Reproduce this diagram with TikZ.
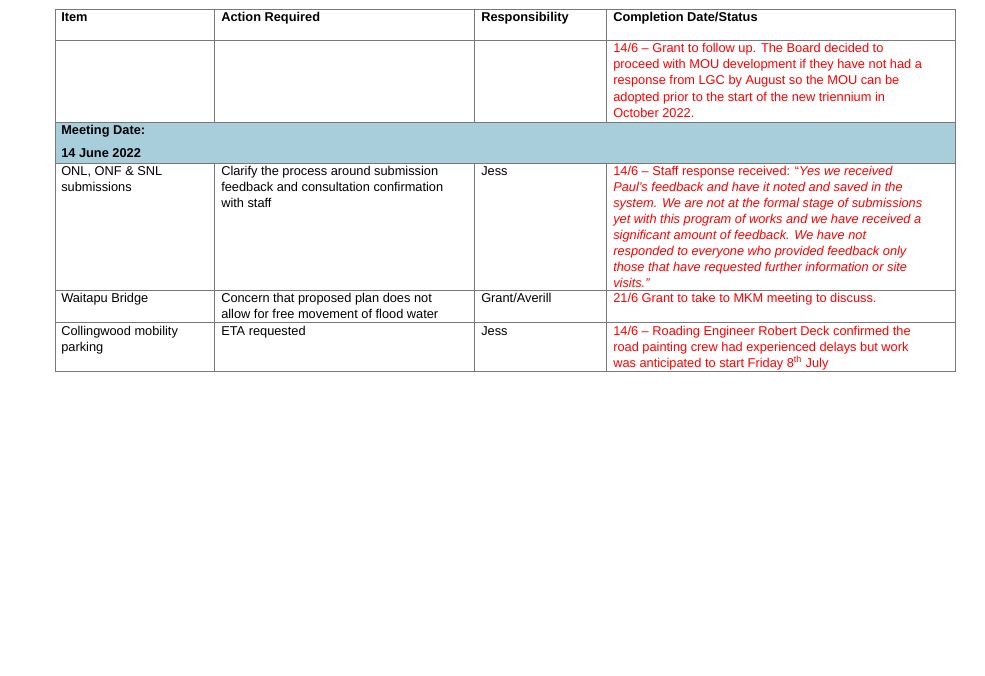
\documentclass[tikz,border=0pt]{standalone}
\usepackage{fontspec}
\setmainfont{Liberation Sans}
\definecolor{band}{RGB}{168,206,220}
\definecolor{rule}{RGB}{120,120,120}
\definecolor{txtred}{RGB}{255,0,0}
\begin{document}
\begin{tikzpicture}[x=0.75pt,y=-0.75pt,
  tx/.style={anchor=base west,inner sep=0pt,font=\fontsize{9.6}{12}\selectfont},
  rd/.style={tx,text=txtred},
  hd/.style={tx,font=\fontsize{9.6}{12}\selectfont\bfseries},
  grid/.style={draw=rule,line width=0.6pt}]
\useasboundingbox (0,0) rectangle (985,675);
\fill[white] (0,0) rectangle (985,675);
\fill[band] (55,122) rectangle (955,163);
% grid
\draw[grid] (55,9) rectangle (955,371);
\draw[grid] (55,40) -- (955,40);
\draw[grid] (55,122) -- (955,122);
\draw[grid] (55,163) -- (955,163);
\draw[grid] (55,290) -- (955,290);
\draw[grid] (55,322) -- (955,322);
\foreach \x in {214,474,606}{
  \draw[grid] (\x,9) -- (\x,122);
  \draw[grid] (\x,163) -- (\x,371);
}
% header
\node[hd] (h1) at (61,21) {Item};
\node[hd] (h2) at (221,21) {Action Required};
\node[hd] (h3) at (481,21) {Responsibility};
\node[hd] (h4) at (613,21) {Completion Date/Status};
% row 1
\node[rd] (a1) at (613,52) {14/6 – Grant to follow up. The Board decided to};
\node[rd] (a2) at (613,68) {proceed with MOU development if they have not had a};
\node[rd] (a3) at (613,84) {response from LGC by August so the MOU can be};
\node[rd] (a4) at (613,101) {adopted prior to the start of the new triennium in};
\node[rd] (a5) at (613,117) {October 2022.};
% band
\node[hd] (m1) at (61,134) {Meeting Date:};
\node[hd] (m2) at (61,157) {14 June 2022};
% ONL row
\node[tx] (b1) at (61,175) {ONL, ONF \& SNL};
\node[tx] (b2) at (61,191) {submissions};
\node[tx] (b3) at (221,175) {Clarify the process around submission};
\node[tx] (b4) at (221,191) {feedback and consultation confirmation};
\node[tx] (b5) at (221,207) {with staff};
\node[tx] (b6) at (481,175) {Jess};
\node[rd] (c1) at (613,175) {14/6 – Staff response received: “\textit{Yes we received}};
\node[rd,font=\fontsize{9.6}{12}\selectfont\itshape] (c2) at (613,191) {Paul’s feedback and have it noted and saved in the};
\node[rd,font=\fontsize{9.6}{12}\selectfont\itshape] (c3) at (613,207) {system. We are not at the formal stage of submissions};
\node[rd,font=\fontsize{9.6}{12}\selectfont\itshape] (c4) at (613,223) {yet with this program of works and we have received a};
\node[rd,font=\fontsize{9.6}{12}\selectfont\itshape] (c5) at (613,239) {significant amount of feedback. We have not};
\node[rd,font=\fontsize{9.6}{12}\selectfont\itshape] (c6) at (613,255) {responded to everyone who provided feedback only};
\node[rd,font=\fontsize{9.6}{12}\selectfont\itshape] (c7) at (613,271) {those that have requested further information or site};
\node[rd,font=\fontsize{9.6}{12}\selectfont\itshape] (c8) at (613,287) {visits.”};
% Waitapu
\node[tx] (d1) at (61,302) {Waitapu Bridge};
\node[tx] (d2) at (221,302) {Concern that proposed plan does not};
\node[tx] (d3) at (221,318) {allow for free movement of flood water};
\node[tx] (d4) at (481,302) {Grant/Averill};
\node[rd] (d5) at (613,302) {21/6 Grant to take to MKM meeting to discuss.};
% Collingwood
\node[tx] (e1) at (61,335) {Collingwood mobility};
\node[tx] (e2) at (61,351) {parking};
\node[tx] (e3) at (221,335) {ETA requested};
\node[tx] (e4) at (481,335) {Jess};
\node[rd] (e5) at (613,335) {14/6 – Roading Engineer Robert Deck confirmed the};
\node[rd] (e6) at (613,351) {road painting crew had experienced delays but work};
\node[rd] (e7) at (613,367) {was anticipated to start Friday 8\textsuperscript{th} July};
\end{tikzpicture}
\end{document}
